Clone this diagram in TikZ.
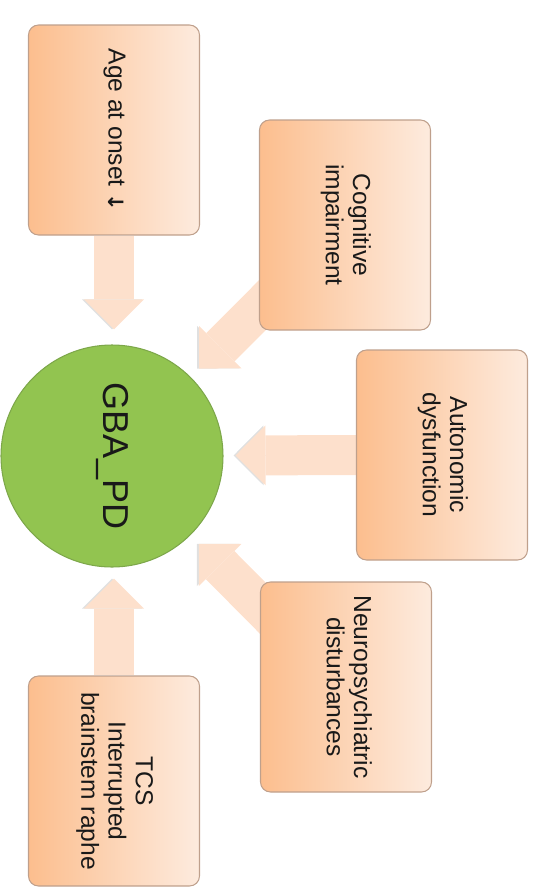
\documentclass[tikz,border=0pt]{standalone}
\usepackage{fontspec}
\setmainfont{Liberation Sans}
\newfontfamily\arrfont{DejaVu Sans}
\usetikzlibrary{arrows.meta, backgrounds, calc}
\definecolor{boxL}{HTML}{FCBE8E}
\definecolor{boxR}{HTML}{FDEBDE}
\definecolor{boxE}{HTML}{BFA08C}
\definecolor{arrF}{HTML}{FDE0CC}
\definecolor{hubF}{HTML}{92C450}
\definecolor{hubE}{HTML}{7DA74A}
\newcommand{\vt}[1]{\rotatebox{-90}{\begin{tabular}{@{}c@{}}#1\end{tabular}}}

\begin{document}
\begin{tikzpicture}[
  fac/.style={rectangle,rounded corners=0.2cm,draw=boxE,line width=0.6pt,left color=boxL,right color=boxR,minimum width=3.42cm,minimum height=4.2cm,inner sep=0pt,font=\fontsize{14}{15.5}\selectfont,text=black!90},
  hub/.style={circle,fill=hubF,draw=hubE,line width=0.6pt,minimum size=4.44cm,inner sep=0pt,font=\fontsize{20.5}{24}\selectfont,text=black!90},
  blk/.style={line width=0.8cm,draw=arrF,-{Triangle[length=0.6cm,width=1.2cm,line width=0pt]},preaction={draw=black!12,transform canvas={xshift=-0.04cm}}}
]
  \useasboundingbox (0,0) rectangle (10.7,-17.74);
  \node[hub](gba) at (2.24,-9.12)  {\vt{GBA\_PD}};
  \node[fac](age) at (2.28,-2.6)   {\vt{Age at onset {\arrfont\bfseries\fontsize{12}{14}\selectfont ↓}}};
  \node[fac](cog) at (6.9,-4.5)    {\vt{Cognitive\\impairment}};
  \node[fac](aut) at (8.84,-9.1)   {\vt{Autonomic\\dysfunction}};
  \node[fac](neu) at (6.92,-13.74) {\vt{Neuropsychiatric\\disturbances}};
  \node[fac](tcs) at (2.28,-15.62) {\vt{TCS\\Interrupted\\brainstem raphe}};
  % block arrows, behind the boxes
  \begin{scope}[on background layer]
    \draw[blk,shorten >=0.3cm](age.south) -- (age.south |- gba.north);
    \draw[blk,shorten >=0.24cm]($(cog.south west)+(0.3,0.74)$) -- (gba);
    \draw[blk,shorten >=0.24cm](aut.west) -- (gba);
    \draw[blk,shorten >=0.24cm]($(neu.north west)+(0.3,-0.78)$) -- (gba);
    \draw[blk,shorten >=0.22cm](tcs.north) -- (tcs.north |- gba.south);
  \end{scope}
\end{tikzpicture}
\end{document}
